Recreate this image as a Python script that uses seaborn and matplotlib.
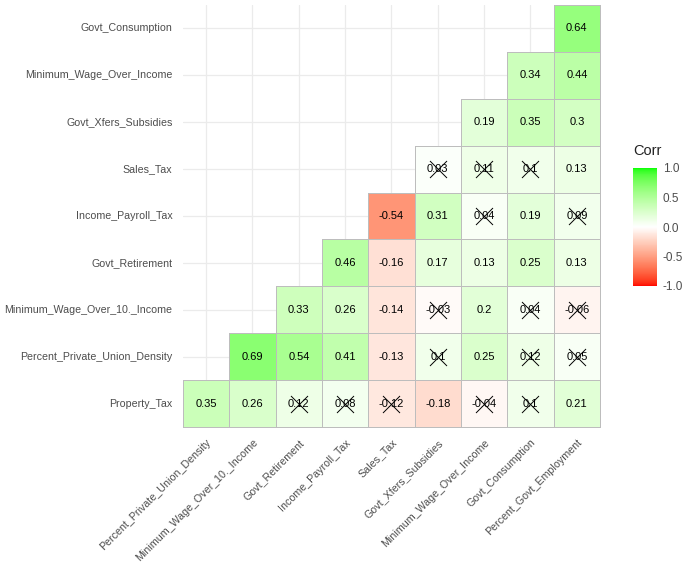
import numpy as np
import pandas as pd
import matplotlib
matplotlib.use("Agg")
import matplotlib.pyplot as plt
import seaborn as sns
from matplotlib.colors import ListedColormap, to_rgba

# ---------------- data ----------------
x_labels = ["Percent_Private_Union_Density", "Minimum_Wage_Over_10._Income",
            "Govt_Retirement", "Income_Payroll_Tax", "Sales_Tax",
            "Govt_Xfers_Subsidies", "Minimum_Wage_Over_Income",
            "Govt_Consumption", "Percent_Govt_Employment"]
# bottom to top
y_labels = ["Property_Tax", "Percent_Private_Union_Density",
            "Minimum_Wage_Over_10._Income", "Govt_Retirement",
            "Income_Payroll_Tax", "Sales_Tax", "Govt_Xfers_Subsidies",
            "Minimum_Wage_Over_Income", "Govt_Consumption"]
# row i (from bottom) starts at column i
corr_rows = [
    [0.35, 0.26, 0.12, 0.08, -0.12, -0.18, -0.04, 0.1, 0.21],
    [0.69, 0.54, 0.41, -0.13, 0.1, 0.25, 0.12, 0.05],
    [0.33, 0.26, -0.14, -0.03, 0.2, 0.04, -0.06],
    [0.46, -0.16, 0.17, 0.13, 0.25, 0.13],
    [-0.54, 0.31, 0.04, 0.19, 0.09],
    [0.03, 0.11, 0.1, 0.13],
    [0.19, 0.35, 0.3],
    [0.34, 0.44],
    [0.64],
]
insig_rows = [
    [0, 0, 1, 1, 1, 0, 1, 1, 0],
    [0, 0, 0, 0, 1, 0, 1, 1],
    [0, 0, 0, 1, 0, 1, 1],
    [0, 0, 0, 0, 0, 0],
    [0, 0, 1, 0, 1],
    [1, 1, 1, 0],
    [0, 0, 0],
    [0, 0],
    [0],
]
legend_ticks = [-1.0, -0.5, 0.0, 0.5, 1.0]

# ---------------- colour map (Lab interpolation like ggplot) ----------------
_M = np.array([[0.4124, 0.3576, 0.1805], [0.2126, 0.7152, 0.0722], [0.0193, 0.1192, 0.9505]])
_WP = np.array([0.95047, 1.0, 1.08883])

def _srgb_to_lab(rgb):
    rgb = np.asarray(rgb, float)
    lin = np.where(rgb <= 0.04045, rgb / 12.92, ((rgb + 0.055) / 1.055) ** 2.4)
    t = (_M @ lin) / _WP
    f = np.where(t > (6 / 29) ** 3, np.cbrt(t), t / (3 * (6 / 29) ** 2) + 4 / 29)
    return np.array([116 * f[1] - 16, 500 * (f[0] - f[1]), 200 * (f[1] - f[2])])

def _lab_to_srgb(lab):
    L, a, b = lab
    fy = (L + 16) / 116
    fx = fy + a / 500
    fz = fy - b / 200
    def finv(f):
        return f ** 3 if f > 6 / 29 else 3 * (6 / 29) ** 2 * (f - 4 / 29)
    xyz = np.array([finv(fx), finv(fy), finv(fz)]) * _WP
    lin = np.clip(np.linalg.inv(_M) @ xyz, 0, 1)
    return np.clip(np.where(lin <= 0.0031308, 12.92 * lin, 1.055 * lin ** (1 / 2.4) - 0.055), 0, 1)

low = _srgb_to_lab([1, 0, 0]); mid = _srgb_to_lab([1, 1, 1]); high = _srgb_to_lab([0, 1, 0])
cols = []
for t in np.linspace(-1, 1, 256):
    lab = mid + (low - mid) * (-t) if t < 0 else mid + (high - mid) * t
    cols.append(_lab_to_srgb(lab))
cmap = ListedColormap(cols)

# ---------------- matrices ----------------
n = len(x_labels)
mat = np.full((n, n), np.nan)
insig = np.zeros((n, n), bool)
for i, (vals, ins) in enumerate(zip(corr_rows, insig_rows)):
    r = n - 1 - i
    for k, (v, s) in enumerate(zip(vals, ins)):
        mat[r, i + k] = v
        insig[r, i + k] = bool(s)
df = pd.DataFrame(mat, index=y_labels[::-1], columns=x_labels)

# ---------------- plot ----------------
sns.set_style("white")
plt.rcParams["font.family"] = ["Liberation Sans", "DejaVu Sans"]

fig = plt.figure(figsize=(6.85, 5.71), dpi=100)
ax = fig.add_axes([183 / 685, 1 - 427 / 571, 417 / 685, 422 / 571])
cax = fig.add_axes([633 / 685, 1 - 286 / 571, 24 / 685, 118 / 571])

sns.heatmap(df, mask=np.isnan(mat), cmap=cmap, vmin=-1, vmax=1, annot=True, fmt="g",
            annot_kws={"size": 8, "color": "black"}, linewidths=0.6, linecolor="#BDBDBD",
            cbar_ax=cax, cbar_kws={"ticks": legend_ticks}, ax=ax)

# hide borders of the empty (masked) cells; keep outer borders unclipped
mesh = ax.collections[0]
edge = to_rgba("#BDBDBD")
mesh.set_edgecolors([(0, 0, 0, 0) if np.isnan(v) else edge for v in mat.ravel()])
mesh.set_clip_on(False)

rr, cc = np.where(insig)
ax.scatter(cc + 0.5, rr + 0.5, marker="x", s=150, c="black", linewidths=0.7, zorder=5)

ax.grid(True, color="#EBEBEB", linewidth=0.9)
ax.set_axisbelow(True)
ax.set_xlabel("")
ax.set_ylabel("")
ax.tick_params(axis="both", length=4, color="#CFCFCF", labelcolor="#4D4D4D", labelsize=7.7)
ax.set_yticklabels(y_labels[::-1], rotation=0)
ax.set_xticklabels(x_labels, rotation=45, ha="right", va="top", rotation_mode="anchor")

cb = mesh.colorbar
cb.outline.set_visible(False)
cb.set_ticklabels([f"{t:.1f}" for t in legend_ticks])
cax.tick_params(axis="y", direction="in", color="white", length=4, width=0.8,
                left=True, right=True, labelsize=8.5, labelcolor="#4D4D4D", pad=4)
fig.text(633 / 685, 1 - 158 / 571, "Corr", fontsize=10.5, color="#222222", ha="left", va="bottom")

fig.savefig("out.png", dpi=100)
